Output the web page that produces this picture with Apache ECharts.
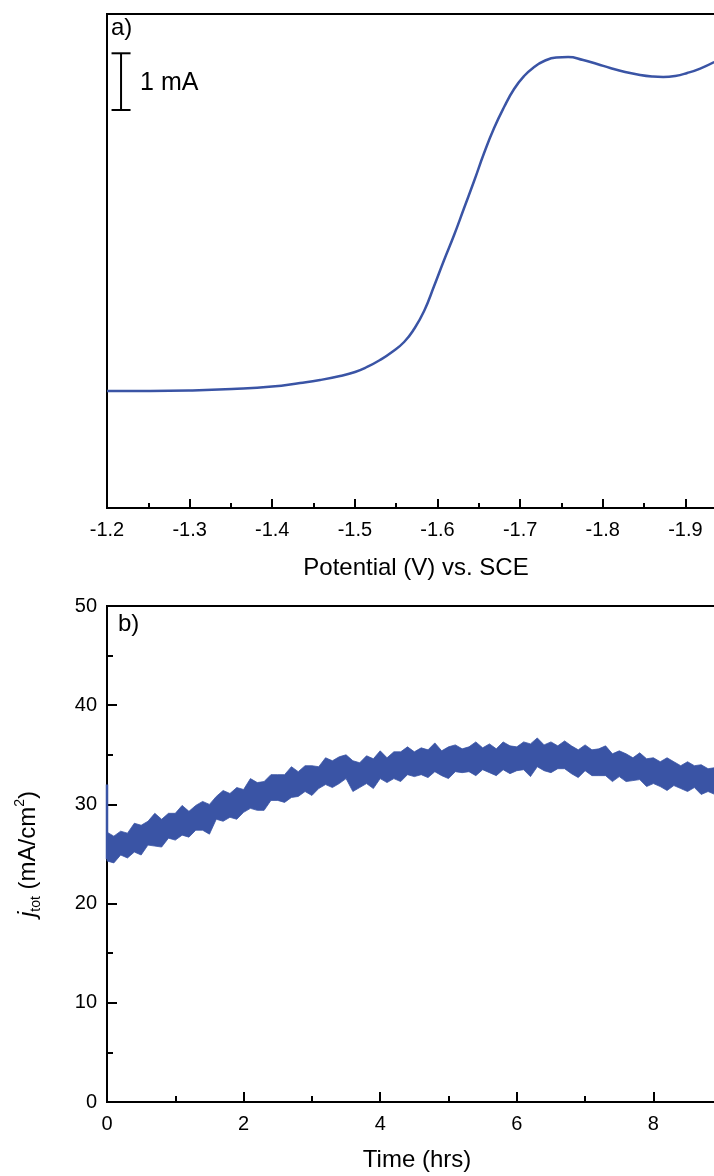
<!DOCTYPE html>
<html>
<head>
<meta charset="utf-8">
<script src="https://cdn.jsdelivr.net/npm/echarts@6/dist/echarts.min.js"></script>
<style>
  html, body { margin: 0; padding: 0; background: #fff; }
  #chart { width: 714px; height: 1176px; }
</style>
</head>
<body>
<div id="chart"></div>
<script>
// panel a) linear sweep, potential (V vs SCE) and current (mA, offset arbitrary)
var sweepPotential = [-1.2000, -1.2521, -1.3005, -1.3513, -1.3998, -1.4337, -1.4579, -1.4821, -1.5002, -1.5148,
  -1.5305, -1.5450, -1.5596, -1.5717, -1.5838, -1.5959, -1.6080, -1.6201, -1.6322, -1.6443,
  -1.6564, -1.6685, -1.6806, -1.6927, -1.7048, -1.7169, -1.7291, -1.7436, -1.7581, -1.7763,
  -1.7932, -1.8090, -1.8271, -1.8453, -1.8598, -1.8731, -1.8877, -1.9022, -1.9179, -1.9349];
var sweepCurrent = [2.063, 2.063, 2.072, 2.099, 2.143, 2.205, 2.257, 2.328, 2.399, 2.487,
  2.610, 2.751, 2.928, 3.157, 3.474, 3.915, 4.374, 4.815, 5.291, 5.767,
  6.261, 6.702, 7.072, 7.390, 7.619, 7.778, 7.884, 7.945, 7.954, 7.901,
  7.831, 7.760, 7.690, 7.637, 7.610, 7.601, 7.619, 7.672, 7.751, 7.866];
var potentialTicks = { min: -2.0, max: -1.2, step: 0.1 };

// scale bar: 1 mA
var scaleBarV = -1.217;
var scaleBarBottom = 7.02;
var scaleBarMA = 1;

// panel b) chronoamperometry, noisy band read as upper / lower envelope every 0.1 h
var timeStepHrs = 0.1;
var jUpper = [27.2, 26.8, 27.3, 27.1, 28.1, 27.9, 28.3, 29.1, 28.5, 29.1,
  29.1, 29.9, 29.3, 29.9, 30.3, 30.0, 30.8, 31.4, 31.1, 31.7,
  31.5, 32.6, 32.2, 32.3, 33.0, 33.0, 33.0, 33.8, 33.3, 33.9,
  33.9, 33.8, 34.7, 34.4, 34.8, 35.0, 34.4, 34.2, 34.9, 34.6,
  35.4, 34.7, 35.3, 35.3, 35.8, 35.3, 35.7, 35.5, 36.2, 35.4,
  35.8, 36.0, 35.6, 35.8, 36.3, 35.7, 36.1, 35.6, 36.3, 35.9,
  35.8, 36.3, 36.1, 36.7, 36.0, 36.3, 35.9, 36.4, 35.9, 35.5,
  36.0, 35.5, 35.6, 35.9, 35.1, 35.4, 35.1, 34.7, 35.2, 34.6,
  34.7, 34.3, 34.7, 34.3, 33.9, 34.3, 33.9, 34.0, 33.6, 33.7];
var jLower = [24.3, 24.1, 24.9, 24.6, 25.2, 24.9, 25.9, 25.8, 25.7, 26.6,
  26.4, 26.9, 26.7, 27.4, 27.4, 27.0, 28.5, 28.3, 28.7, 28.5,
  29.2, 29.6, 29.4, 29.4, 30.4, 30.4, 30.2, 30.7, 30.8, 31.3,
  30.9, 31.6, 32.0, 31.7, 32.1, 32.6, 31.3, 31.7, 32.1, 31.6,
  32.6, 32.2, 32.6, 32.3, 33.0, 32.8, 33.0, 32.7, 33.3, 32.9,
  32.6, 33.3, 33.2, 33.3, 32.9, 33.5, 33.2, 32.9, 33.5, 33.1,
  33.4, 33.5, 32.8, 33.8, 33.4, 33.2, 33.6, 33.6, 33.1, 32.7,
  33.4, 32.9, 32.9, 32.9, 32.3, 32.8, 32.3, 32.4, 32.5, 31.8,
  32.1, 31.8, 31.4, 31.9, 31.6, 31.3, 31.7, 31.0, 31.3, 31.0];
// initial transient at t = 0
var spikeTime = [0, 0];
var spikeJ = [32.0, 24.5];

var FONT = '"Liberation Sans", Arial, sans-serif';
var BLUE = '#3a54a5';

var sweepData = sweepPotential.map(function (v, i) { return [v, sweepCurrent[i]]; });
// one row per sample: [time, lower, upper]
var bandRows = jUpper.map(function (v, i) { return [+(i * timeStepHrs).toFixed(2), jLower[i], v]; });
var spikeData = spikeTime.map(function (t, i) { return [t, spikeJ[i]]; });

var tickLabel = { color: '#000', fontSize: 20, fontFamily: FONT, margin: 12 };
var axisLine = { lineStyle: { color: '#000', width: 2 } };

var option = {
    animation: false,
    backgroundColor: '#fff',
    grid: [
        { left: 107, top: 14, height: 494, width: 661, outerBoundsMode: 'none', show: true, borderColor: '#000', borderWidth: 2, backgroundColor: 'transparent' },
        { left: 107, top: 606, height: 496, width: 683, outerBoundsMode: 'none', show: true, borderColor: '#000', borderWidth: 2, backgroundColor: 'transparent' }
    ],
    xAxis: [
        {
            gridIndex: 0, type: 'value', inverse: true,
            min: potentialTicks.min, max: potentialTicks.max, interval: potentialTicks.step,
            axisLine: axisLine,
            axisTick: { inside: true, length: 9, lineStyle: { color: '#000', width: 2 } },
            minorTick: { show: true, splitNumber: 2, length: 5, lineStyle: { color: '#000', width: 2 } },
            axisLabel: tickLabel,
            splitLine: { show: false }
        },
        {
            gridIndex: 1, type: 'value', min: 0, max: 10, interval: 2,
            axisLine: axisLine,
            axisTick: { inside: true, length: 10, lineStyle: { color: '#000', width: 2 } },
            minorTick: { show: true, splitNumber: 2, length: 6, lineStyle: { color: '#000', width: 2 } },
            axisLabel: tickLabel,
            splitLine: { show: false }
        }
    ],
    yAxis: [
        {
            gridIndex: 0, type: 'value', min: 0, max: 8.713,
            axisLine: axisLine,
            axisTick: { show: false },
            axisLabel: { show: false },
            splitLine: { show: false }
        },
        {
            gridIndex: 1, type: 'value', min: 0, max: 50, interval: 10,
            axisLine: axisLine,
            axisTick: { inside: true, length: 10, lineStyle: { color: '#000', width: 2 } },
            minorTick: { show: true, splitNumber: 2, length: 6, lineStyle: { color: '#000', width: 2 } },
            axisLabel: { color: '#000', fontSize: 20, fontFamily: FONT, margin: 10 },
            splitLine: { show: false },
            name: '{i|j}{sub|tot} (mA/cm{sup|2})',
            nameLocation: 'middle',
            nameGap: 64,
            nameRotate: 90,
            nameTextStyle: {
                color: '#000', fontSize: 24, fontFamily: FONT,
                rich: {
                    i: { fontSize: 24, fontStyle: 'italic', fontFamily: FONT, color: '#000' },
                    sub: { fontSize: 14, fontFamily: FONT, color: '#000', verticalAlign: 'bottom', lineHeight: 30 },
                    sup: { fontSize: 14, fontFamily: FONT, color: '#000', verticalAlign: 'top', lineHeight: 30 }
                }
            }
        }
    ],
    graphic: [
        { type: 'text', left: 111, top: 16, style: { text: 'a)', fontSize: 24, fontFamily: FONT, fill: '#000' } },
        { type: 'text', left: 118, top: 612, style: { text: 'b)', fontSize: 24, fontFamily: FONT, fill: '#000' } },
        { type: 'text', x: 416, y: 568, style: { text: 'Potential (V) vs. SCE', fontSize: 24, fontFamily: FONT, fill: '#000', align: 'center', verticalAlign: 'middle' } },
        { type: 'text', x: 417, y: 1160, style: { text: 'Time (hrs)', fontSize: 24, fontFamily: FONT, fill: '#000', align: 'center', verticalAlign: 'middle' } }
    ],
    series: [
        {
            name: 'sweep', type: 'line', xAxisIndex: 0, yAxisIndex: 0,
            data: sweepData, smooth: 0.5, symbol: 'none',
            lineStyle: { color: BLUE, width: 2.5 }, z: 5
        },
        {
            name: 'scale bar', type: 'custom', xAxisIndex: 0, yAxisIndex: 0, silent: true, z: 6,
            data: [[scaleBarV, scaleBarBottom, scaleBarBottom + scaleBarMA]],
            renderItem: function (params, api) {
                var p0 = api.coord([api.value(0), api.value(1)]);
                var p1 = api.coord([api.value(0), api.value(2)]);
                var w = 9.5;
                var s = { stroke: '#000', lineWidth: 2 };
                return {
                    type: 'group',
                    children: [
                        { type: 'line', shape: { x1: p0[0], y1: p0[1], x2: p1[0], y2: p1[1] }, style: s },
                        { type: 'line', shape: { x1: p0[0] - w, y1: p0[1], x2: p0[0] + w, y2: p0[1] }, style: s },
                        { type: 'line', shape: { x1: p1[0] - w, y1: p1[1], x2: p1[0] + w, y2: p1[1] }, style: s },
                        { type: 'text', style: { text: scaleBarMA + ' mA', x: p0[0] + 19, y: (p0[1] + p1[1]) / 2 + 1, fontSize: 25, fontFamily: FONT, fill: '#000', align: 'left', verticalAlign: 'middle' } }
                    ]
                };
            }
        },
        {
            // noisy current band: polygon through upper envelope then back along lower envelope
            name: 'band', type: 'custom', xAxisIndex: 1, yAxisIndex: 1, silent: true, z: 3,
            data: [0],
            renderItem: function (params, api) {
                var pts = [];
                bandRows.forEach(function (r) { pts.push(api.coord([r[0], r[2]])); });
                for (var i = bandRows.length - 1; i >= 0; i--) {
                    pts.push(api.coord([bandRows[i][0], bandRows[i][1]]));
                }
                return {
                    type: 'polygon',
                    shape: { points: pts },
                    style: { fill: BLUE, stroke: BLUE, lineWidth: 0.8, lineJoin: 'miter' }
                };
            }
        },
        {
            name: 'transient', type: 'line', xAxisIndex: 1, yAxisIndex: 1,
            data: spikeData, symbol: 'none', silent: true,
            lineStyle: { color: BLUE, width: 2.5 }, z: 5
        }
    ]
};

var chart = echarts.init(document.getElementById('chart'));
chart.setOption(option);
</script>
</body>
</html>
